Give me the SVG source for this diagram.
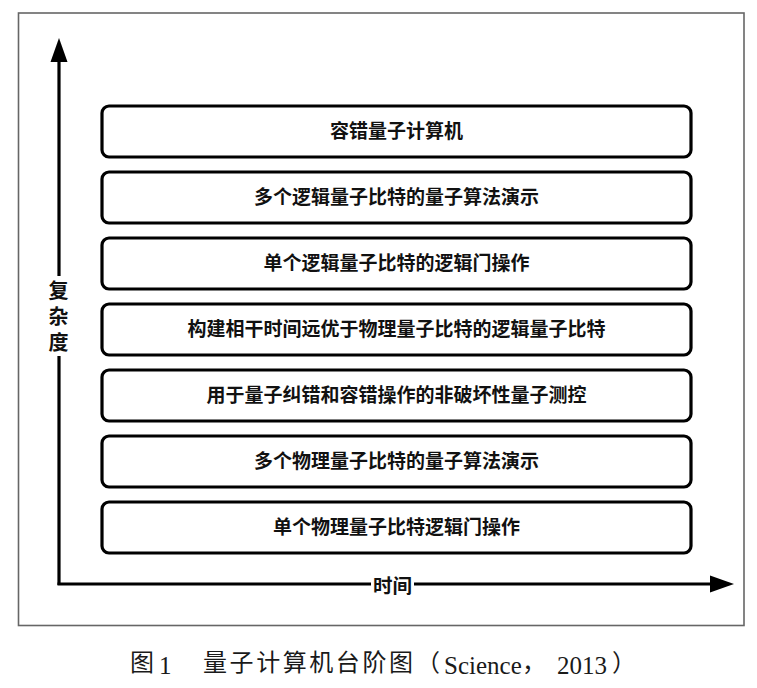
<svg xmlns="http://www.w3.org/2000/svg" width="757" height="688" viewBox="0 0 757 688">
<style>
.box{fill:#fff;stroke:#000;stroke-width:3.2}
.lbl{font-family:"Noto Sans CJK SC","Noto Sans CJK JP",sans-serif;font-size:19px;font-weight:bold;fill:#111;text-anchor:middle}
.axis{stroke:#000;stroke-width:3.2;fill:none}
.cj{font-family:"Noto Sans CJK SC",sans-serif;font-size:24px;fill:#1a1a1a}
.lt{font-family:"Liberation Serif",serif;font-size:25px;fill:#1a1a1a}
</style>
<defs>
<marker id="ah" markerUnits="userSpaceOnUse" markerWidth="26" markerHeight="18" refX="0" refY="8.5" orient="auto" viewBox="0 0 26 17">
<path d="M0,0 L24,8.5 L0,17 Z" fill="#000"/>
</marker>
</defs>
<rect width="757" height="688" fill="#fff"/>
<rect id="frame" x="18.5" y="13" width="725.5" height="612.5" fill="#fff" stroke="#666" stroke-width="1.6"/>
<g id="connectors">
<path class="axis" d="M59,585 L59,62" marker-end="url(#ah)"/>
<path class="axis" d="M57.5,584 L710,584" marker-end="url(#ah)"/>
</g>
<g id="axis-y-label">
<rect x="48" y="276" width="22" height="80" fill="#fff"/>
<text class="lbl" x="58.5" y="280" writing-mode="vertical-rl" style="font-size:20px;text-anchor:start;letter-spacing:6px">复杂度</text>
</g>
<g id="axis-x-label">
<rect x="371" y="574" width="43" height="24" fill="#fff"/>
<text class="lbl" x="392.5" y="593" style="font-size:19.5px">时间</text>
</g>
<g id="n1"><rect class="box" x="102" y="106" width="589" height="51" rx="7"/><text class="lbl" x="396.5" y="138">容错量子计算机</text></g>
<g id="n2"><rect class="box" x="102" y="172" width="589" height="51" rx="7"/><text class="lbl" x="396.5" y="204">多个逻辑量子比特的量子算法演示</text></g>
<g id="n3"><rect class="box" x="102" y="238" width="589" height="51" rx="7"/><text class="lbl" x="396.5" y="270">单个逻辑量子比特的逻辑门操作</text></g>
<g id="n4"><rect class="box" x="102" y="304" width="589" height="51" rx="7"/><text class="lbl" x="396.5" y="336">构建相干时间远优于物理量子比特的逻辑量子比特</text></g>
<g id="n5"><rect class="box" x="102" y="370" width="589" height="51" rx="7"/><text class="lbl" x="396.5" y="402">用于量子纠错和容错操作的非破坏性量子测控</text></g>
<g id="n6"><rect class="box" x="102" y="436" width="589" height="51" rx="7"/><text class="lbl" x="396.5" y="468">多个物理量子比特的量子算法演示</text></g>
<g id="n7"><rect class="box" x="102" y="502" width="589" height="51" rx="7"/><text class="lbl" x="396.5" y="534">单个物理量子比特逻辑门操作</text></g>
<g id="caption">
<text class="cj" x="130" y="671">图</text>
<text class="lt" x="159" y="674">1</text>
<text class="cj" x="203" y="671" textLength="210" lengthAdjust="spacing">量子计算机台阶图</text>
<text class="cj" x="416" y="671">（</text>
<text class="lt" x="444" y="674">Science</text>
<text class="cj" x="522" y="671">，</text>
<text class="lt" x="557" y="674">2013</text>
<text class="cj" x="612" y="671">）</text>
</g>
</svg>
